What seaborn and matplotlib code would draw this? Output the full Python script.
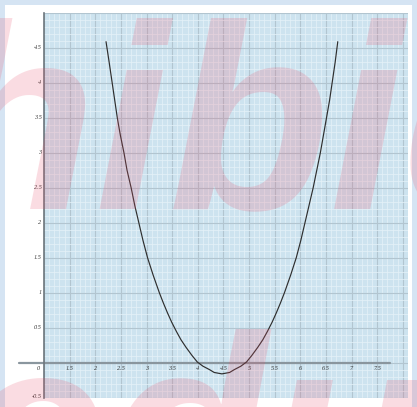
import matplotlib
matplotlib.use("Agg")
import matplotlib.pyplot as plt
import seaborn as sns
import pandas as pd
from matplotlib.patches import Rectangle
from matplotlib.ticker import MultipleLocator

# ---- data ----
curve_x = [2.21, 2.27, 2.33, 2.38, 2.43, 2.49, 2.56, 2.62, 2.70, 2.77, 2.85,
           2.93, 3.02, 3.13, 3.25, 3.33, 3.41, 3.49, 3.58, 3.67, 3.77, 3.89,
           3.99, 4.10, 4.23, 4.32, 4.47, 4.62, 4.71, 4.84, 4.95, 5.05, 5.17,
           5.27, 5.36, 5.45, 5.53, 5.61, 5.69, 5.81, 5.92, 6.01, 6.09, 6.17,
           6.25, 6.32, 6.39, 6.45, 6.51, 6.57, 6.62, 6.68, 6.73]
curve_y = [4.59, 4.30, 4.00, 3.75, 3.50, 3.25, 3.00, 2.75, 2.50, 2.25, 2.00,
           1.75, 1.50, 1.25, 1.00, 0.85, 0.71, 0.58, 0.45, 0.33, 0.22, 0.10,
           0.01, -0.05, -0.10, -0.14, -0.16, -0.14, -0.10, -0.05, 0.01, 0.10, 0.22,
           0.33, 0.45, 0.58, 0.71, 0.85, 1.00, 1.25, 1.50, 1.75, 2.00, 2.25,
           2.50, 2.75, 3.00, 3.25, 3.50, 3.75, 4.00, 4.30, 4.59]
x_tick_values = [1.5, 2, 2.5, 3, 3.5, 4, 4.5, 5, 5.5, 6, 6.5, 7, 7.5]
x_tick_labels = ["1.5", "2", "2.5", "3", "3.5", "4", "4.5", "5", "5.5", "6", "6.5", "7", "7.5"]
y_tick_values = [0.5, 1, 1.5, 2, 2.5, 3, 3.5, 4, 4.5]
y_tick_labels = ["0.5", "1", "1.5", "2", "2.5", "3", "3.5", "4", "4.5"]
origin_label = "0"
bottom_label = "-0.5"
watermark_lines = ["hibid", "edu"]

df = pd.DataFrame({"x": curve_x, "y": curve_y})

sns.set_style("white")
plt.rcParams['font.family'] = ['Liberation Serif', 'DejaVu Serif']

W, H = 417, 407
fig = plt.figure(figsize=(W / 100, H / 100), dpi=100)
fig.patch.set_facecolor('#d5e4f3')
fig.add_artist(Rectangle((5 / W, 0), (412 - 5) / W, (H - 4.5) / H,
                         transform=fig.transFigure, facecolor='white',
                         edgecolor='none', zorder=-10))

ax = fig.add_axes([44 / W, (H - 398) / H, (408 - 44) / W, (398 - 13) / H])
ax.set_xlim(1.0, 8.1)
ax.set_ylim(-0.505, 5.0)
ax.set_facecolor('#cde3ef')

ax.xaxis.set_major_locator(MultipleLocator(0.5))
ax.xaxis.set_minor_locator(MultipleLocator(0.1))
ax.yaxis.set_major_locator(MultipleLocator(0.5))
ax.yaxis.set_minor_locator(MultipleLocator(0.1))
ax.grid(which='minor', color='#e4f1f8', lw=0.6, alpha=0.9)
ax.grid(which='major', color='#b2c5d0', lw=0.8)
ax.set_axisbelow(True)
ax.tick_params(which='both', length=0, labelbottom=False, labelleft=False)
for s in ['top', 'right', 'bottom']:
    ax.spines[s].set_visible(False)
ax.spines['left'].set_color('#6c767d')
ax.spines['left'].set_linewidth(1.2)

# horizontal axis line (extends left beyond the vertical axis)
ax.axhline(0, xmin=-0.069, xmax=0.951, color='#8a969e', lw=1.6,
           clip_on=False, zorder=2)

sns.lineplot(data=df, x="x", y="y", ax=ax, color='#2e2e2e', lw=0.85,
             sort=False, zorder=4)
ax.set_xlabel("")
ax.set_ylabel("")

tcol = '#3a3a3a'
for v, lab in zip(x_tick_values, x_tick_labels):
    ax.text(v, -0.08, lab, ha='center', va='center', fontsize=4.5,
            style='italic', color=tcol)
ytr = ax.get_yaxis_transform()
for v, lab in zip(y_tick_values, y_tick_labels):
    ax.text(-0.007, v, lab, transform=ytr, ha='right', va='center',
            fontsize=4.5, style='italic', color=tcol)
ax.text(-0.007, -0.49, bottom_label, transform=ytr, ha='right', va='center',
        fontsize=4.5, style='italic', color=tcol)
ax.text(0.895, -0.08, origin_label, ha='center', va='center', fontsize=4.5,
        style='italic', color=tcol)

# watermark
fig.text(-66 / W, (H - 208) / H, watermark_lines[0], fontsize=190,
         fontweight='bold', style='italic', family=['Liberation Sans'],
         color='#e8546e', alpha=0.2, ha='left', va='baseline', zorder=5)
fig.text(-40 / W, (H - 520) / H, watermark_lines[1], fontsize=190,
         fontweight='bold', style='italic', family=['Liberation Sans'],
         color='#e8546e', alpha=0.2, ha='left', va='baseline', zorder=5)

fig.savefig("out.png", dpi=100, facecolor=fig.get_facecolor())
